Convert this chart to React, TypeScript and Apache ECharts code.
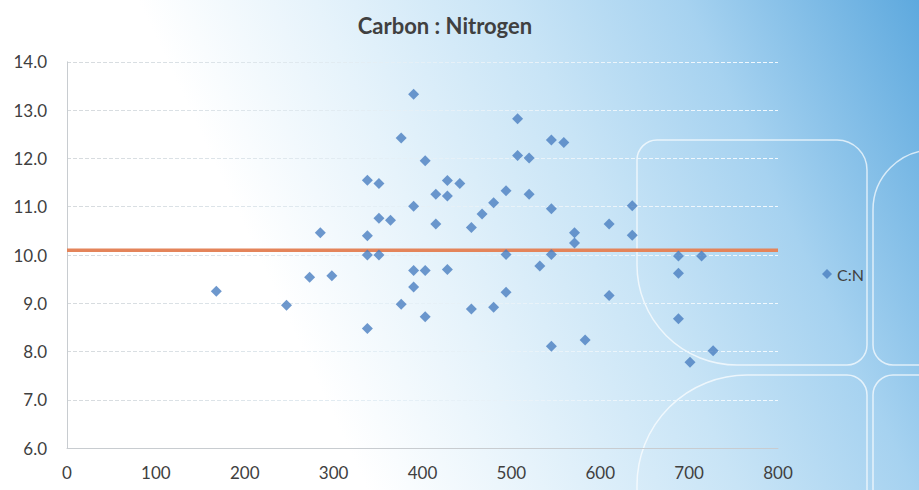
import React, { useEffect, useRef } from "react";
import * as echarts from "echarts";

const TITLE = "Carbon : Nitrogen";
const SERIES_NAME = "C:N";
const X_TICKS = [0, 100, 200, 300, 400, 500, 600, 700, 800];
const Y_TICKS = [6, 7, 8, 9, 10, 11, 12, 13, 14];
const MEAN_VALUE = 10.1;

const cnX = [
  168, 247, 273, 285, 298, 338, 338, 338, 338, 351, 351, 351, 364, 376, 376,
  390, 390, 390, 390, 403, 403, 403, 415, 415, 428, 428, 428, 442, 455, 455,
  467, 480, 480, 494, 494, 494, 507, 507, 520, 520, 532, 545, 545, 545, 545,
  559, 571, 571, 583, 610, 610, 636, 636, 688, 688, 688, 701, 714, 727,
];
const cnY = [
  9.25, 8.96, 9.54, 10.46, 9.57, 11.55, 10.4, 10.0, 8.48, 11.48, 10.76, 10.0,
  10.72, 12.42, 8.98, 13.33, 11.01, 9.68, 9.34, 11.95, 9.68, 8.72, 11.26,
  10.64, 11.54, 11.22, 9.7, 11.48, 10.57, 8.88, 10.85, 11.08, 8.92, 11.33,
  10.01, 9.23, 12.82, 12.06, 12.01, 11.26, 9.77, 12.38, 10.96, 10.01, 8.11,
  12.33, 10.46, 10.25, 8.24, 10.64, 9.16, 11.02, 10.41, 9.98, 9.62, 8.68,
  7.78, 9.98, 8.02,
];

const FONT = "Lato, 'Open Sans', sans-serif";

export default function App() {
  const ref = useRef<HTMLDivElement>(null);

  useEffect(() => {
    if (!ref.current) return;
    const chart = echarts.init(ref.current, undefined, { renderer: "svg" });
    const points = cnX.map((x, i) => [x, cnY[i]]);
    const curveStyle = { fill: "none", stroke: "rgba(255,255,255,0.7)", lineWidth: 1.5 };
    chart.setOption({
      animation: false,
      backgroundColor: new echarts.graphic.LinearGradient(0, 0.25, 1, 0, [
        { offset: 0, color: "#ffffff" },
        { offset: 0.2, color: "#ffffff" },
        { offset: 0.38, color: "#e6f3fb" },
        { offset: 0.58, color: "#c8e4f6" },
        { offset: 0.76, color: "#a6d2f0" },
        { offset: 1, color: "#5ea9de" },
      ]),
      title: {
        text: TITLE,
        left: 440,
        top: 9,
        textAlign: "center",
        textStyle: { fontFamily: FONT, fontWeight: "bold", fontSize: 22, color: "#404040" },
      },
      graphic: [
        { type: "rect", z: 0, silent: true, shape: { x: 637, y: 140, width: 230, height: 225, r: [20, 30, 20, 100] }, style: curveStyle },
        { type: "rect", z: 0, silent: true, shape: { x: 637, y: 375, width: 230, height: 160, r: [110, 20, 0, 0] }, style: curveStyle },
        { type: "rect", z: 0, silent: true, shape: { x: 873, y: 150, width: 100, height: 215, r: [60, 0, 0, 20] }, style: curveStyle },
        { type: "rect", z: 0, silent: true, shape: { x: 873, y: 375, width: 100, height: 160, r: [20, 0, 0, 0] }, style: curveStyle },
      ],
      legend: {
        data: [SERIES_NAME],
        left: 817,
        top: 261,
        icon: "diamond",
        itemWidth: 10,
        itemHeight: 10,
        itemGap: 6,
        textStyle: { fontFamily: FONT, fontSize: 16, color: "#404040" },
      },
      grid: { left: 67, right: 141, top: 61.8, bottom: 41.8, containLabel: false },
      xAxis: {
        type: "value",
        min: X_TICKS[0],
        max: X_TICKS[X_TICKS.length - 1],
        interval: 100,
        axisLine: { show: true, lineStyle: { color: "#c8ccd0", width: 1 } },
        axisTick: { show: false },
        axisLabel: { margin: 16, fontFamily: FONT, fontSize: 17, color: "#404040" },
        splitLine: { show: false },
      },
      yAxis: {
        type: "value",
        min: Y_TICKS[0],
        max: Y_TICKS[Y_TICKS.length - 1],
        interval: 1,
        axisLine: { show: true, lineStyle: { color: "#c8ccd0", width: 1 } },
        axisTick: { show: false },
        axisLabel: {
          margin: 20,
          fontFamily: FONT,
          fontSize: 17,
          color: "#404040",
          formatter: (v: number) => v.toFixed(1),
        },
        splitLine: {
          show: true,
          lineStyle: {
            type: "dashed",
            width: 1,
            color: new echarts.graphic.LinearGradient(67, 0, 778, 0, [
              { offset: 0, color: "#d6dadd" },
              { offset: 0.45, color: "#e4eff6" },
              { offset: 1, color: "#f2f9fe" },
            ], true),
          },
        },
      },
      series: [
        {
          name: SERIES_NAME,
          type: "scatter",
          data: points,
          symbol: "diamond",
          symbolSize: 11,
          z: 3,
          itemStyle: { color: "#4a7ec0" },
        },
        {
          name: "mean",
          type: "line",
          data: [[X_TICKS[0], MEAN_VALUE], [X_TICKS[X_TICKS.length - 1], MEAN_VALUE]],
          symbol: "none",
          z: 2,
          lineStyle: { color: "#e4845a", width: 3.5 },
        },
      ],
    });
    return () => chart.dispose();
  }, []);

  return (
    <div
      ref={ref}
      style={{ position: "absolute", left: 0, top: 0, width: 919, height: 490 }}
    />
  );
}
